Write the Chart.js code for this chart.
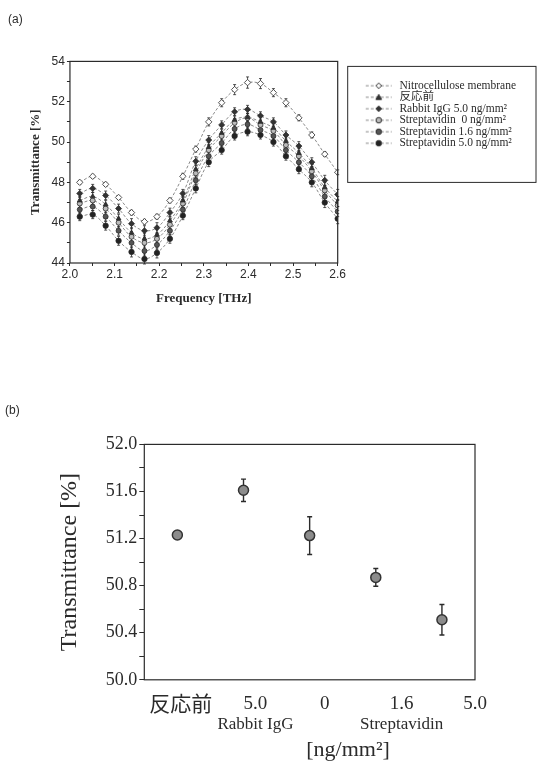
<!DOCTYPE html>
<html lang="ja">
<head>
  <meta charset="UTF-8">
  <title>Transmittance</title>
  <script src="https://cdn.jsdelivr.net/npm/chart.js"></script>
  <style>
    body { margin: 0; background: #fff; }
    .panel { position: relative; width: 542px; }
    #topPanel { height: 310px; }
    #bottomPanel { height: 453px; }
  </style>
</head>
<body>
  <div class="panel" id="topPanel"><canvas id="spectrumChart"></canvas></div>
  <div class="panel" id="bottomPanel"><canvas id="peakChart"></canvas></div>

  <script>
    // (a) spectra
    const freqTHz = [2.022, 2.051, 2.080, 2.109, 2.138, 2.167, 2.195, 2.224, 2.253, 2.282, 2.311,
                     2.340, 2.369, 2.398, 2.427, 2.456, 2.484, 2.513, 2.542, 2.571, 2.600];
    const nitro    = [48.0, 48.3, 47.9, 47.25, 46.5, 46.05, 46.3, 47.1, 48.3, 49.65, 51.0,
                      51.95, 52.6, 52.95, 52.9, 52.45, 51.95, 51.2, 50.35, 49.4, 48.5];
    const before   = [47.1, 47.3, 46.9, 46.2, 45.5, 45.2, 45.4, 46.1, 47.1, 48.65, 49.75,
                      50.45, 51.1, 51.23, 51.0, 50.7, 50.05, 49.45, 48.7, 47.75, 47.05];
    const rabbit50 = [47.45, 47.7, 47.35, 46.7, 45.95, 45.6, 45.75, 46.5, 47.45, 49.05, 50.1,
                      50.85, 51.5, 51.62, 51.3, 51.0, 50.35, 49.8, 49.0, 48.1, 47.4];
    const strep0   = [46.95, 47.1, 46.7, 46.0, 45.3, 45.0, 45.2, 45.9, 46.95, 48.45, 49.6,
                      50.3, 50.95, 51.2, 50.85, 50.55, 49.85, 49.3, 48.55, 47.6, 46.85];
    const strep16  = [46.65, 46.8, 46.3, 45.6, 45.0, 44.6, 44.9, 45.6, 46.65, 48.1, 49.3,
                      49.95, 50.65, 50.88, 50.6, 50.3, 49.6, 49.0, 48.3, 47.3, 46.55];
    const strep50  = [46.3, 46.4, 45.85, 45.1, 44.55, 44.2, 44.5, 45.2, 46.35, 47.7, 49.0,
                      49.6, 50.3, 50.51, 50.35, 50.0, 49.3, 48.65, 48.0, 47.0, 46.2];
    const nitroErr  = [0.1, 0.1, 0.1, 0.1, 0.12, 0.12, 0.12, 0.12, 0.15, 0.15, 0.2,
                       0.2, 0.25, 0.28, 0.25, 0.2, 0.2, 0.15, 0.15, 0.12, 0.12];
    const sampleErr = [0.2, 0.2, 0.22, 0.22, 0.25, 0.25, 0.25, 0.22, 0.2, 0.22, 0.22,
                       0.2, 0.2, 0.2, 0.2, 0.2, 0.2, 0.22, 0.22, 0.25, 0.25];
    const seriesNames = ['Nitrocellulose membrane', '反応前', 'Rabbit IgG 5.0 ng/mm²',
                         'Streptavidin  0 ng/mm²', 'Streptavidin 1.6 ng/mm²', 'Streptavidin 5.0 ng/mm²'];

    // (b) peak transmittance
    const bCategories = ['反応前', '5.0', '0', '1.6', '5.0'];
    const bValues = [51.23, 51.61, 51.225, 50.87, 50.51];
    const bErrors = [0.01, 0.095, 0.16, 0.075, 0.13];
    const bGroupLabels = ['Rabbit IgG', 'Streptavidin'];
    const bGroupIndex = [1, 3];

    const ink = '#2b2b2b';
    const lineGray = '#8a8a8a';
    const serif = '"Liberation Serif", "DejaVu Serif", serif';
    const sans = '"Liberation Sans Narrow", "Liberation Sans", Arial, sans-serif';
    const cjkSerif = '"Liberation Serif", "Noto Sans CJK JP", serif';

    // small marker painter, used for the legend images
    function drawMarker(g, style, x, y, r, fill) {
      g.beginPath();
      if (style === 'triangle') {
        g.moveTo(x, y - r); g.lineTo(x + r, y + r * 0.8); g.lineTo(x - r, y + r * 0.8); g.closePath();
      } else if (style === 'rectRot') {
        g.moveTo(x, y - r); g.lineTo(x + r, y); g.lineTo(x, y + r); g.lineTo(x - r, y); g.closePath();
      } else {
        g.arc(x, y, r, 0, Math.PI * 2);
      }
      g.fillStyle = fill; g.fill();
      g.lineWidth = 1; g.strokeStyle = ink; g.stroke();
    }
    function legendImage(ds) {
      const c = document.createElement('canvas');
      c.width = 56; c.height = 10;
      const g = c.getContext('2d');
      g.strokeStyle = lineGray; g.lineWidth = 1; g.setLineDash([3, 2]);
      g.beginPath(); g.moveTo(28, 5); g.lineTo(54, 5); g.stroke();
      g.setLineDash([]);
      drawMarker(g, ds.pointStyle, 41, 5, 2.8, ds.pointBackgroundColor);
      return c;
    }

    const errorBars = {
      id: 'errorBars',
      beforeDatasetsDraw(chart, args, opts) {
        const { ctx } = chart;
        const y = chart.scales.y;
        chart.data.datasets.forEach((ds, di) => {
          if (!ds.err) return;
          const meta = chart.getDatasetMeta(di);
          ctx.save();
          ctx.strokeStyle = ink;
          ctx.lineWidth = opts.width || 1;
          const cap = opts.cap || 2;
          meta.data.forEach((pt, i) => {
            const v = ds.data[i].y;
            const t = y.getPixelForValue(v + ds.err[i]);
            const b = y.getPixelForValue(v - ds.err[i]);
            ctx.beginPath();
            ctx.moveTo(pt.x, t); ctx.lineTo(pt.x, b);
            ctx.moveTo(pt.x - cap, t); ctx.lineTo(pt.x + cap, t);
            ctx.moveTo(pt.x - cap, b); ctx.lineTo(pt.x + cap, b);
            ctx.stroke();
          });
          ctx.restore();
        });
      }
    };

    const frame = {
      id: 'frame',
      afterDraw(chart) {
        const { ctx, chartArea: a } = chart;
        ctx.save();
        ctx.strokeStyle = ink;
        ctx.lineWidth = 1.2;
        ctx.strokeRect(a.left, a.top, a.right - a.left, a.bottom - a.top);
        ctx.restore();
      }
    };

    const legendFrame = {
      id: 'legendFrame',
      afterDraw(chart) {
        const lg = chart.legend;
        const { ctx } = chart;
        ctx.save();
        ctx.strokeStyle = ink;
        ctx.lineWidth = 1;
        ctx.strokeRect(lg.left + 10, lg.top + 5, lg.right + 10 - lg.left - 10, 116);
        ctx.restore();
      }
    };

    const styles = [
      { pointStyle: 'rectRot', pointBackgroundColor: '#fff', pointRadius: 3.2 },
      { pointStyle: 'triangle', pointBackgroundColor: '#333', pointRadius: 2.8 },
      { pointStyle: 'rectRot', pointBackgroundColor: '#333', pointRadius: 3 },
      { pointStyle: 'circle', pointBackgroundColor: '#bbb', pointRadius: 2.5 },
      { pointStyle: 'circle', pointBackgroundColor: '#555', pointRadius: 2.5 },
      { pointStyle: 'circle', pointBackgroundColor: '#222', pointRadius: 2.7 }
    ];
    const seriesValues = [nitro, before, rabbit50, strep0, strep16, strep50];

    const specDatasets = seriesValues.map((vals, i) => Object.assign({
      label: seriesNames[i],
      data: freqTHz.map((f, j) => ({ x: f, y: vals[j] })),
      err: i === 0 ? nitroErr : sampleErr,
      borderColor: lineGray,
      borderWidth: 1,
      borderDash: [3, 2],
      tension: 0.35,
      pointBorderColor: ink,
      pointBorderWidth: 0.8,
      fill: false
    }, styles[i]));

    new Chart(document.getElementById('spectrumChart'), {
      type: 'line',
      data: { datasets: specDatasets },
      plugins: [errorBars, frame, legendFrame],
      options: {
        responsive: true,
        maintainAspectRatio: false,
        animation: false,
        layout: { padding: { left: 8, right: 16, bottom: 4 } },
        plugins: {
          errorBars: { width: 0.8, cap: 1.5 },
          title: {
            display: true, text: '(a)', align: 'start', color: ink,
            font: { family: sans, size: 12, weight: 'normal' },
            padding: { top: 12, bottom: 35 }
          },
          legend: {
            position: 'right',
            align: 'start',
            fullSize: false,
            maxWidth: 210,
            title: { display: true, text: ' ', font: { size: 8 }, padding: 4.5 },
            labels: {
              usePointStyle: true,
              pointStyleWidth: 56,
              boxHeight: 10,
              padding: 0,
              color: ink,
              font: { family: cjkSerif, size: 11.5 },
              generateLabels(chart) {
                return chart.data.datasets.map((ds, i) => ({
                  text: ds.label,
                  pointStyle: legendImage(ds),
                  fillStyle: 'transparent',
                  strokeStyle: 'transparent',
                  lineWidth: 0,
                  fontColor: ink,
                  hidden: false,
                  datasetIndex: i
                }));
              }
            }
          },
          tooltip: { enabled: false }
        },
        scales: {
          x: {
            type: 'linear', min: 2.0, max: 2.6,
            border: { display: false },
            grid: { drawOnChartArea: false, tickLength: 3, color: ink },
            ticks: {
              stepSize: 0.05, autoSkip: false, maxRotation: 0, padding: 1, color: ink,
              font: { family: sans, size: 12 },
              callback: v => Math.round(v * 100) % 10 === 0 ? v.toFixed(1) : ''
            },
            title: {
              display: true, text: 'Frequency [THz]', color: ink,
              font: { family: serif, size: 13, weight: 'bold' },
              padding: { top: 8, bottom: 0 }
            }
          },
          y: {
            min: 44, max: 54,
            border: { display: false },
            grid: { drawOnChartArea: false, tickLength: 3, color: ink },
            ticks: {
              stepSize: 1, autoSkip: false, padding: 2, color: ink,
              font: { family: sans, size: 12 },
              callback: v => v % 2 === 0 ? v : ''
            },
            title: {
              display: true, text: 'Transmittance [%]', color: ink,
              font: { family: serif, size: 13, weight: 'bold' },
              padding: { top: 20, bottom: 6 }
            }
          }
        }
      }
    });

    // (b)
    const tickSpots = [0.55, 1.68, 2.73, 3.89, 5.0];

    const groupText = {
      id: 'groupText',
      afterDraw(chart) {
        const { ctx, chartArea: a } = chart;
        const x = chart.scales.x;
        ctx.save();
        ctx.fillStyle = ink;
        ctx.textAlign = 'center';
        ctx.textBaseline = 'middle';
        ctx.font = '17px ' + serif;
        bGroupLabels.forEach((t, i) => {
          ctx.fillText(t, x.getPixelForValue(tickSpots[bGroupIndex[i]]), a.bottom + 45);
        });
        ctx.font = '22px ' + serif;
        ctx.fillText('[ng/mm²]', x.getPixelForValue(3.08), a.bottom + 70);
        ctx.restore();
      }
    };

    new Chart(document.getElementById('peakChart'), {
      type: 'scatter',
      data: {
        datasets: [{
          data: bCategories.map((c, i) => ({ x: i + 0.5, y: bValues[i] })),
          err: bErrors,
          pointStyle: 'circle',
          pointRadius: 5,
          pointBackgroundColor: '#8c8c8c',
          pointBorderColor: '#333',
          pointBorderWidth: 1.5
        }]
      },
      plugins: [errorBars, frame, groupText],
      options: {
        responsive: true,
        maintainAspectRatio: false,
        animation: false,
        layout: { padding: { left: 5, right: 67, bottom: 40 } },
        plugins: {
          errorBars: { width: 1.4, cap: 2.5 },
          legend: { display: false },
          tooltip: { enabled: false },
          title: {
            display: true, text: '(b)', align: 'start', color: ink,
            font: { family: sans, size: 12, weight: 'normal' },
            padding: { top: 93, bottom: 27 }
          }
        },
        scales: {
          x: {
            type: 'linear', min: 0, max: 5,
            border: { display: false },
            grid: { display: false },
            afterBuildTicks: scale => { scale.ticks = tickSpots.map(v => ({ value: v })); },
            ticks: {
              autoSkip: false, maxRotation: 0, padding: 5, color: ink,
              font: ctx => ({ family: cjkSerif, size: ctx.index === 0 ? 21 : 19 }),
              callback: (v, i) => bCategories[i]
            }
          },
          y: {
            min: 50, max: 52,
            border: { display: false },
            grid: { drawOnChartArea: false, tickLength: 5, color: ink },
            ticks: {
              stepSize: 0.2, autoSkip: false, padding: 2, color: ink,
              font: { family: serif, size: 18 },
              callback: v => Math.round(v * 10) % 4 === 0 ? v.toFixed(1) : ''
            },
            title: {
              display: true, text: 'Transmittance [%]', color: ink,
              font: { family: serif, size: 24 },
              padding: { top: 50, bottom: 20 }
            }
          }
        }
      }
    });
  </script>
</body>
</html>
